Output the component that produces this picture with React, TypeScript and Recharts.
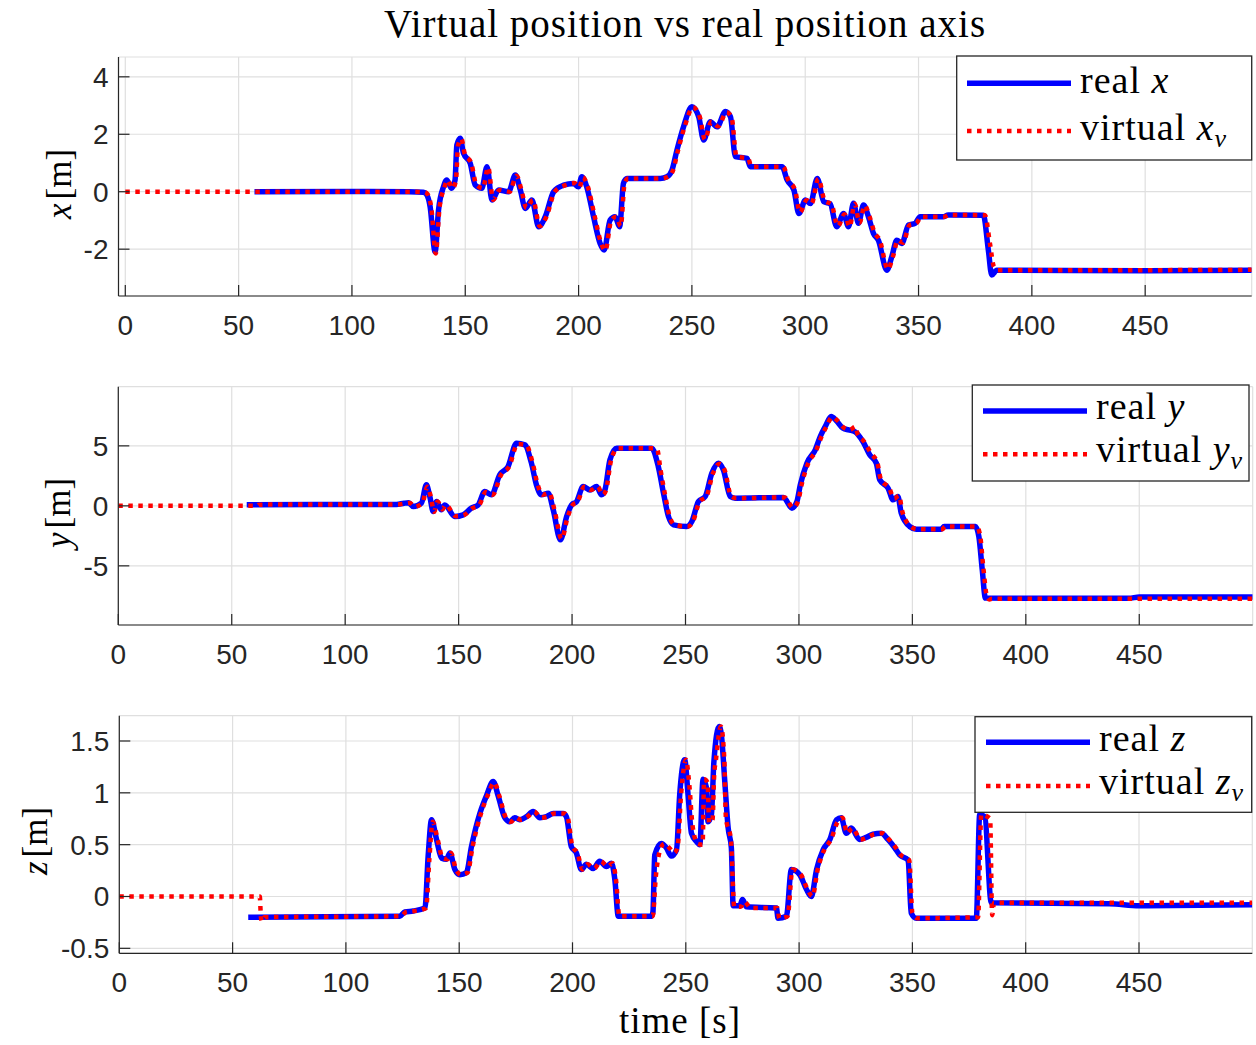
import {
  CartesianGrid,
  Line,
  LineChart,
  XAxis,
  YAxis,
} from "recharts"

type Pt = [number, number]

// time [s] -> position [m]
const xReal: Pt[] = [
  [57, 0], [100, 0.01], [125, 0], [131.5, -0.02], [132.8, -0.08], [134.5, -0.52], [136.7, -2.09], [138.2, -0.64],
  [140.4, 0.17], [141.8, 0.41], [144, 0.12], [145.5, 0.41], [146.3, 1.63], [147.8, 1.86], [149.2, 1.34],
  [152.2, 0.99], [154.4, 0.23], [157.3, 0.12], [159.6, 0.87], [161.8, -0.29], [164.7, 0.06], [169.1, 0],
  [172.1, 0.58], [174.3, 0.06], [176.5, -0.58], [179.4, -0.29], [182.4, -1.22], [185.3, -0.87], [189, 0],
  [193.4, 0.23], [197.7, 0.29], [199.9, 0.17], [201.4, 0.52], [203.6, 0.17], [206.6, -0.87], [209.5, -1.8],
  [211.3, -2.03], [213.9, -0.99], [216.1, -0.87], [218.1, -1.22], [219.8, 0.29], [221.3, 0.46], [236, 0.46],
  [239, 0.52], [241.2, 0.75], [243.4, 1.45], [246.3, 2.26], [250, 2.96], [253, 2.61], [255.2, 1.8],
  [258.1, 2.44], [261.1, 2.26], [264.8, 2.79], [267, 2.61], [269.2, 1.22], [274.3, 1.16], [275.8, 0.87],
  [289.8, 0.87], [292, 0.41], [295, 0.06], [297.2, -0.76], [300.1, -0.29], [302.3, -0.41], [305.3, 0.46],
  [308.2, -0.35], [311, -0.42], [313.9, -1.22], [316.9, -0.76], [319.1, -1.22], [321.3, -0.4], [323.5, -1.1],
  [325.7, -0.46], [327.9, -0.87], [330.1, -1.45], [332.3, -1.69], [336, -2.73], [338.2, -2.26], [340.4, -1.69],
  [342.6, -1.8], [345.6, -1.16], [348.5, -1.1], [350.7, -0.87], [360.9, -0.87], [363.1, -0.81], [378.6, -0.82],
  [380.8, -2.03], [382.3, -2.9], [384.5, -2.73], [450, -2.75], [497, -2.73],
]

const xVirtual: Pt[] = [
  [0, 0], [57, 0], [100, 0], [125, 0], [132, -0.02], [133.3, -0.08], [135, -0.55], [137, -2.15], [138.6, -0.6],
  [140.8, 0.15], [142.2, 0.4], [144.4, 0.12], [145.9, 0.4], [146.8, 1.6], [148.3, 1.84], [149.7, 1.34],
  [152.7, 0.98], [154.9, 0.24], [157.8, 0.12], [160.1, 0.85], [162.3, -0.28], [165.2, 0.06], [169.6, 0],
  [172.6, 0.56], [174.8, 0.06], [177, -0.56], [179.9, -0.29], [182.9, -1.2], [185.8, -0.87], [189.5, 0],
  [193.9, 0.22], [198.2, 0.3], [200.4, 0.16], [201.9, 0.5], [204.1, 0.17], [207.1, -0.85], [210, -1.8],
  [211.8, -2.05], [214.4, -1.0], [216.6, -0.87], [218.6, -1.2], [220.3, 0.28], [221.8, 0.46], [236.5, 0.46],
  [239.5, 0.52], [241.7, 0.75], [243.9, 1.45], [246.8, 2.26], [250.5, 2.94], [253.5, 2.6], [255.7, 1.82],
  [258.6, 2.44], [261.6, 2.28], [265.3, 2.77], [267.5, 2.6], [269.7, 1.22], [274.8, 1.16], [276.3, 0.87],
  [290.3, 0.87], [292.5, 0.41], [295.5, 0.06], [297.7, -0.72], [300.6, -0.3], [302.8, -0.41], [305.8, 0.45],
  [308.7, -0.33], [311.5, -0.43], [314.4, -1.2], [317.4, -0.78], [319.6, -1.22], [321.8, -0.42], [324, -1.08],
  [326.2, -0.48], [328.4, -0.87], [330.6, -1.43], [332.8, -1.67], [336.5, -2.7], [338.7, -2.26], [340.9, -1.69],
  [343.1, -1.78], [346.1, -1.16], [349, -1.1], [351.2, -0.87], [361.4, -0.87], [363.6, -0.81], [379.3, -0.82],
  [381.5, -1.8], [383.2, -2.6], [385, -2.73], [450, -2.73], [497, -2.72],
]

const yReal: Pt[] = [
  [56.6, 0.1], [122.6, 0.12], [126, 0.22], [128, 0.25], [130, -0.06], [133.6, 0.22], [135.8, 1.75], [137.3, 0.78],
  [138.8, -0.47], [140.3, 0.36], [142.4, -0.33], [143.9, 0.08], [148.3, -0.89], [152, -0.75], [155.6, -0.19],
  [158.6, 0.08], [161.5, 1.19], [164.5, 0.92], [168.1, 2.58], [171.8, 3.28], [175.5, 5.22], [179.2, 5.08],
  [182.1, 3.56], [184.3, 1.75], [186.5, 0.92], [189.5, 1.06], [191.7, -0.33], [194.9, -2.83], [197.6, -0.89],
  [199.8, 0.08], [202, 0.36], [204.9, 1.61], [207.9, 1.33], [210.8, 1.61], [213, 0.92], [214.5, 1.33],
  [216.7, 3.83], [219.7, 4.8], [235.1, 4.8], [238, 3.28], [240.3, 1.06], [242.5, -0.89], [244.7, -1.58],
  [250.6, -1.72], [252.8, -1.31], [255.7, 0.36], [258.7, 0.78], [261.6, 2.72], [264.5, 3.56], [266.7, 3.0],
  [269.7, 0.78], [271.9, 0.64], [293.2, 0.7], [296.9, -0.19], [299.1, 0.36], [300.6, 1.75], [303.5, 3.56],
  [307.2, 4.67], [309.4, 5.78], [311.6, 6.61], [314.2, 7.44], [316.5, 7.1], [319.4, 6.47], [321.9, 6.33],
  [324.6, 6.19], [328.2, 5.36], [331.2, 4.25], [334.1, 3.56], [335.6, 2.17], [339.3, 1.47], [341.5, 0.5],
  [343.6, 0.78], [345.1, -0.61], [348.8, -1.72], [351.7, -1.94], [362.7, -1.94], [364, -1.72], [377.8, -1.72],
  [379.3, -2.56], [380.8, -5.33], [382.2, -7.69], [445.4, -7.7], [450, -7.6], [500, -7.6],
]

const yVirtual: Pt[] = [
  [0, 0], [61, 0], [62, 0.1], [123, 0.12], [126.5, 0.2], [128.5, 0.24], [130.5, -0.06], [134, 0.22], [136.2, 1.6],
  [137.7, 0.8], [139.2, -0.5], [140.7, 0.36], [142.8, -0.3], [144.3, 0.08], [148.8, -0.87], [152.5, -0.75],
  [156.1, -0.2], [159.1, 0.08], [162, 1.15], [165, 0.92], [168.6, 2.55], [172.3, 3.28], [176, 5.15],
  [179.7, 5.08], [182.6, 3.6], [184.8, 1.8], [187, 0.92], [190, 1.06], [192.2, -0.3], [195.4, -2.75],
  [198.1, -0.9], [200.3, 0.08], [202.5, 0.36], [205.4, 1.6], [208.4, 1.33], [211.3, 1.6], [213.5, 0.92],
  [215, 1.33], [217.2, 3.8], [220.2, 4.8], [235.6, 4.8], [237.5, 4.7], [239, 3.0], [240.8, 1.1], [243, -0.89],
  [245.2, -1.58], [251.1, -1.72], [253.3, -1.31], [256.2, 0.36], [259.2, 0.78], [262.1, 2.7], [265, 3.5],
  [267.2, 3.0], [270.2, 0.78], [272.4, 0.64], [293.7, 0.7], [297.4, -0.15], [299.6, 0.36], [301.1, 1.7],
  [304, 3.5], [307.7, 4.67], [309.9, 5.75], [312.1, 6.6], [314.7, 7.4], [317, 7.1], [319.9, 6.5], [322.4, 6.33],
  [325, 6.6], [325.8, 6.0], [328.7, 5.36], [331.7, 4.4], [334.6, 3.56], [336.1, 2.2], [339.8, 1.47], [342, 0.6],
  [344.1, 0.85], [345.6, -0.5], [349.3, -1.72], [352.2, -1.94], [363.2, -1.94], [364.5, -1.72], [378.3, -1.72],
  [379.8, -2.4], [381.3, -5.2], [382.8, -7.5], [384, -7.8], [385, -7.75], [500, -7.75],
]

const zReal: Pt[] = [
  [56.9, -0.2], [123.8, -0.19], [126, -0.15], [129.7, -0.14], [134.9, -0.11], [136.3, 0.39], [137.8, 0.74],
  [140, 0.55], [142.2, 0.37], [144.4, 0.36], [145.9, 0.42], [148.1, 0.26], [150.3, 0.21], [153.2, 0.23],
  [155.4, 0.48], [159.1, 0.8], [162, 0.97], [165, 1.11], [167.2, 0.97], [170.1, 0.76], [172.3, 0.72],
  [174.5, 0.76], [176.7, 0.74], [179.7, 0.77], [182.6, 0.82], [185.6, 0.76], [188.5, 0.77], [191.5, 0.8],
  [195.9, 0.8], [197.3, 0.77], [199.5, 0.48], [201.7, 0.42], [203.9, 0.26], [206.1, 0.31], [209.1, 0.27],
  [212, 0.34], [215, 0.29], [217.2, 0.32], [218.7, 0.16], [220.2, -0.19], [234.9, -0.19], [235.5, -0.15],
  [236.3, 0.4], [239.2, 0.51], [241.4, 0.47], [243.6, 0.39], [245.9, 0.45], [247.3, 0.98], [249.5, 1.32],
  [251, 0.98], [252.5, 0.61], [254.7, 0.53], [256.2, 0.5], [257.6, 1.13], [259.1, 1.05], [259.8, 0.72],
  [261.3, 0.79], [262.4, 1.3], [264.7, 1.64], [265.7, 1.56], [267.2, 1.11], [268.7, 0.66], [270.1, 0.47],
  [270.9, -0.09], [273.8, -0.09], [275, -0.03], [276.8, -0.1], [290, -0.11], [290.7, -0.21], [294.4, -0.19],
  [296.6, 0.26], [300.3, 0.21], [303.2, 0.07], [305.4, 0], [307.7, 0.26], [310.6, 0.45], [313.6, 0.55],
  [316.5, 0.74], [318.6, 0.76], [320.8, 0.61], [323, 0.66], [326.7, 0.55], [329.6, 0.57], [332.6, 0.6],
  [336.3, 0.61], [339.2, 0.55], [342.2, 0.47], [344.4, 0.4], [348.1, 0.35], [349.5, -0.16], [351.7, -0.21],
  [378.2, -0.21], [379.7, 0.79], [381.9, 0.77], [384.8, -0.06], [437, -0.07], [450, -0.09], [500, -0.08],
]

const zVirtual: Pt[] = [
  [0, 0], [62, 0], [62.5, -0.2], [63, -0.24], [64, -0.2], [124.3, -0.19], [126.5, -0.15], [130.2, -0.14],
  [135.4, -0.11], [136.8, 0.35], [138.3, 0.72], [140.5, 0.55], [142.7, 0.37], [144.9, 0.36], [146.4, 0.42],
  [148.6, 0.26], [150.8, 0.21], [153.7, 0.23], [155.9, 0.48], [159.6, 0.8], [162.5, 0.97], [165.5, 1.1],
  [167.7, 0.97], [170.6, 0.76], [172.8, 0.72], [175, 0.76], [177.2, 0.74], [180.2, 0.77], [183.1, 0.82],
  [186.1, 0.76], [189, 0.77], [192, 0.8], [196.4, 0.8], [197.8, 0.77], [200, 0.48], [202.2, 0.42],
  [204.4, 0.26], [206.6, 0.31], [209.6, 0.27], [212.5, 0.34], [215.5, 0.29], [217.7, 0.32], [219.2, 0.16],
  [220.7, -0.19], [235.4, -0.19], [236.8, 0.2], [238.3, 0.42], [240.5, 0.51], [242.7, 0.47], [244.9, 0.42],
  [246.4, 0.48], [247.9, 0.98], [250.1, 1.32], [251.5, 1.09], [253, 0.68], [255.2, 0.51], [257.4, 0.5],
  [258.1, 1.13], [259.6, 1.1], [260.3, 0.71], [261.8, 0.74], [262.5, 1.16], [263.3, 1.32], [265.5, 1.64],
  [267, 1.32], [267.7, 0.76], [269.9, 0.55], [271.4, -0.1], [274.3, -0.1], [275.8, -0.05], [278.7, -0.11],
  [290.5, -0.11], [291.2, -0.21], [294.9, -0.19], [297.1, 0.26], [300.8, 0.21], [303.7, 0.07], [305.9, 0],
  [308.2, 0.26], [311.1, 0.45], [314.1, 0.55], [317, 0.72], [319.1, 0.76], [321.3, 0.61], [323.5, 0.66],
  [327.2, 0.55], [330.1, 0.57], [333.1, 0.6], [336.8, 0.61], [339.7, 0.55], [342.7, 0.47], [344.9, 0.4],
  [348.6, 0.35], [350, -0.16], [352.2, -0.21], [379, -0.2], [380.4, 0.79], [384.3, 0.75], [385.2, -0.18],
  [386, -0.06], [500, -0.06],
]

const timeTicks = [0, 50, 100, 150, 200, 250, 300, 350, 400, 450]
const xTicks = [-2, 0, 2, 4]
const yTicks = [-5, 0, 5]
const zTicks = [-0.5, 0, 0.5, 1, 1.5]

const AX = "#262626"
const GRID = "#dfdfdf"
const SANS = "'Liberation Sans', Arial, sans-serif"
const SERIF = "'Liberation Serif', 'Times New Roman', serif"
const W = 1256
const Y_AXIS_W = 60
const X_AXIS_H = 40
const REAL_W = 5.5
const VIRT_W = 4.5
const VIRT_DASH = "4.5 5.5"

const toRows = (pts: Pt[]) => pts.map(([t, v]) => ({ t, v }))

type PanelProps = {
  top: number
  height: number
  plotTop: number
  plotBottom: number
  plotLeft: number
  plotRight: number
  tDomain: [number, number]
  vDomain: [number, number]
  vTicks: number[]
  real: Pt[]
  virtual: Pt[]
}

const Panel = ({ top, height, plotTop, plotBottom, plotLeft, plotRight, tDomain, vDomain, vTicks, real, virtual }: PanelProps) => {
  const axisLine = { stroke: AX, strokeWidth: 1.2 }
  const tickStyle = { fill: AX, fontSize: 28, fontFamily: SANS }
  return (
    <div style={{ position: "absolute", left: 0, top, width: W, height }}>
      <LineChart
        width={W}
        height={height}
        margin={{
          top: plotTop - top,
          bottom: top + height - plotBottom - X_AXIS_H,
          left: plotLeft - Y_AXIS_W,
          right: W - plotRight,
        }}
      >
        <CartesianGrid xAxisId="b" yAxisId="l" stroke={GRID} strokeWidth={1.2} />
        <XAxis
          xAxisId="b"
          type="number"
          dataKey="t"
          domain={tDomain}
          allowDataOverflow
          ticks={timeTicks}
          interval={0}
          height={X_AXIS_H}
          tickSize={-11}
          tickMargin={30}
          axisLine={axisLine}
          tickLine={axisLine}
          tick={tickStyle}
        />
        <XAxis
          xAxisId="t"
          orientation="top"
          type="number"
          dataKey="t"
          domain={tDomain}
          allowDataOverflow
          ticks={timeTicks}
          interval={0}
          height={0}
          tickSize={-11}
          axisLine={axisLine}
          tickLine={axisLine}
          tickFormatter={() => ""}
        />
        <YAxis
          yAxisId="l"
          type="number"
          domain={vDomain}
          allowDataOverflow
          ticks={vTicks}
          interval={0}
          width={Y_AXIS_W}
          tickSize={-11}
          tickMargin={21}
          axisLine={axisLine}
          tickLine={axisLine}
          tick={tickStyle}
        />
        <YAxis
          yAxisId="r"
          orientation="right"
          type="number"
          domain={vDomain}
          allowDataOverflow
          ticks={vTicks}
          interval={0}
          width={0}
          tickSize={-11}
          axisLine={axisLine}
          tickLine={axisLine}
          tickFormatter={() => ""}
        />
        <Line
          xAxisId="b"
          yAxisId="l"
          data={toRows(real)}
          dataKey="v"
          type="monotone"
          stroke="#0000ff"
          strokeWidth={REAL_W}
          dot={false}
          isAnimationActive={false}
        />
        <Line
          xAxisId="b"
          yAxisId="l"
          data={toRows(virtual)}
          dataKey="v"
          type="monotone"
          stroke="#ff0000"
          strokeWidth={VIRT_W}
          strokeDasharray={VIRT_DASH}
          dot={false}
          isAnimationActive={false}
        />
      </LineChart>
    </div>
  )
}

type LegendBoxProps = {
  x: number
  y: number
  w: number
  h: number
  lineX: number
  row1: number
  row2: number
  base1: number
  base2: number
  sym: string
}

const LegendBox = ({ x, y, w, h, lineX, row1, row2, base1, base2, sym }: LegendBoxProps) => (
  <g>
    <rect x={x} y={y} width={w} height={h} fill="#fff" stroke={AX} strokeWidth={1.3} />
    <line x1={lineX} x2={lineX + 104} y1={row1} y2={row1} stroke="#0000ff" strokeWidth={REAL_W} />
    <line x1={lineX} x2={lineX + 104} y1={row2} y2={row2} stroke="#ff0000" strokeWidth={VIRT_W} strokeDasharray={VIRT_DASH} />
    <text x={lineX + 113} y={base1} fontSize={38} fontFamily={SERIF} fill="#000" letterSpacing={1}>
      real <tspan fontStyle="italic">{sym}</tspan>
    </text>
    <text x={lineX + 113} y={base2} fontSize={38} fontFamily={SERIF} fill="#000" letterSpacing={1}>
      virtual <tspan fontStyle="italic">{sym}</tspan>
      <tspan fontStyle="italic" fontSize={26} dy={7}>v</tspan>
    </text>
  </g>
)

const YLabel = ({ cx, cy, sym }: { cx: number; cy: number; sym: string }) => (
  <text
    transform={`translate(${cx},${cy}) rotate(-90)`}
    textAnchor="middle"
    fontSize={35}
    fontFamily={SERIF}
    fill="#000"
  >
    <tspan fontStyle="italic">{sym}</tspan>
    <tspan dx={4}>[m]</tspan>
  </text>
)

export default function App() {
  return (
    <div style={{ position: "absolute", left: 0, top: 0, width: W, height: 1045, background: "#fff", overflow: "hidden" }}>
      <Panel
        top={0}
        height={345}
        plotTop={57}
        plotBottom={296}
        plotLeft={118.5}
        plotRight={1251.7}
        tDomain={[-3, 497]}
        vDomain={[-3.63, 4.69]}
        vTicks={xTicks}
        real={xReal}
        virtual={xVirtual}
      />
      <Panel
        top={345}
        height={330}
        plotTop={386.7}
        plotBottom={625}
        plotLeft={118.3}
        plotRight={1252.7}
        tDomain={[0, 500]}
        vDomain={[-9.93, 9.93]}
        vTicks={yTicks}
        real={yReal}
        virtual={yVirtual}
      />
      <Panel
        top={675}
        height={370}
        plotTop={715.7}
        plotBottom={953.3}
        plotLeft={119.3}
        plotRight={1252.3}
        tDomain={[0, 500]}
        vDomain={[-0.548, 1.744]}
        vTicks={zTicks}
        real={zReal}
        virtual={zVirtual}
      />
      <svg width={W} height={1045} style={{ position: "absolute", left: 0, top: 0, pointerEvents: "none" }}>
        <text x={685} y={37} textAnchor="middle" fontSize={39} fontFamily={SERIF} fill="#000" letterSpacing={1}>
          Virtual position vs real position axis
        </text>
        <YLabel cx={71} cy={184} sym="x" />
        <YLabel cx={70} cy={513} sym="y" />
        <YLabel cx={47} cy={841} sym="z" />
        <text x={680} y={1033} textAnchor="middle" fontSize={37} fontFamily={SERIF} fill="#000" letterSpacing={1}>
          time [s]
        </text>
        <LegendBox x={956.7} y={56} w={295} h={104} lineX={967} row1={83.3} row2={131} base1={93.3} base2={140} sym="x" />
        <LegendBox x={972.3} y={385} w={276.7} h={96} lineX={983} row1={411} row2={454.3} base1={419.3} base2={461.7} sym="y" />
        <LegendBox x={975} y={716.7} w={276.7} h={95.6} lineX={986} row1={742.3} row2={786} base1={750.7} base2={794.3} sym="z" />
      </svg>
    </div>
  )
}
